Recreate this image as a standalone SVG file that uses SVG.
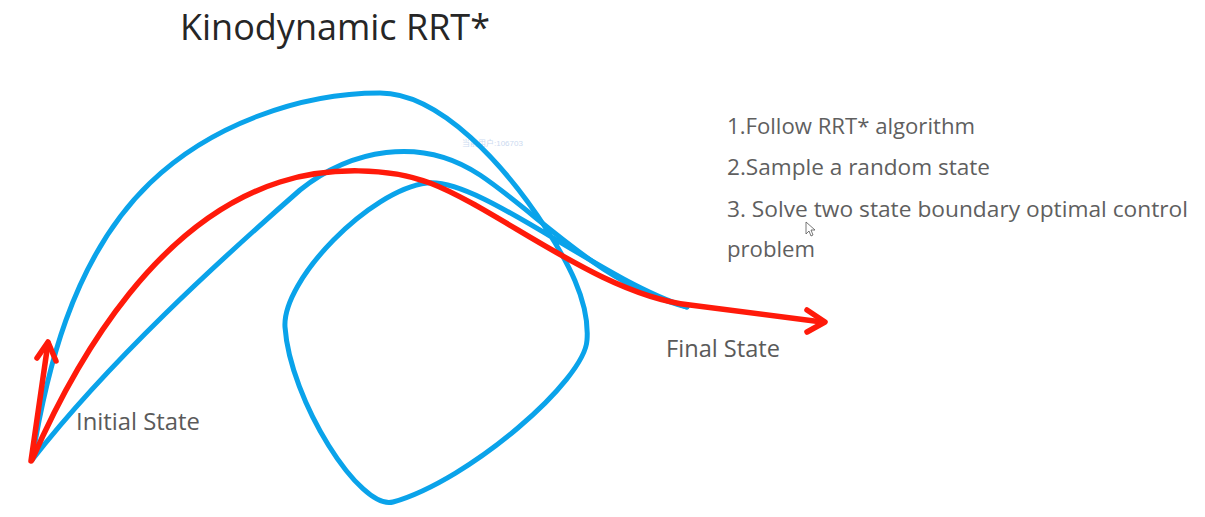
<svg xmlns="http://www.w3.org/2000/svg" width="1205" height="517" viewBox="0 0 1205 517">
<style>
.blue{fill:none;stroke:#0AA3EA;stroke-width:5;stroke-linecap:round;stroke-linejoin:round}
.red{fill:none;stroke:#FF1A0A;stroke-width:5.5;stroke-linecap:round;stroke-linejoin:round}
.title{font-family:"Open Sans","Noto Sans",sans-serif;font-size:36px;fill:#262626}
.item{font-family:"Open Sans","Noto Sans",sans-serif;font-size:22.5px;fill:#5f5f5f}
.label{font-family:"Open Sans","Noto Sans",sans-serif;font-size:24px;fill:#5a5a5a}
.wm{font-family:"Liberation Sans","Noto Sans CJK SC",sans-serif;font-size:8px;fill:#cbdaf0}
</style>
<rect width="1205" height="517" fill="#ffffff"/>
<g id="title"><text class="title" x="180" y="40" textLength="310" lengthAdjust="spacingAndGlyphs">Kinodynamic RRT*</text></g>
<g id="watermark"><text class="wm" x="462" y="146">当前用户:106703</text></g>
<g id="connectors">
<path id="blue-outer" class="blue" d="M32 460 C45 380 70 260 150 183 C210 125 300 93 380 93 C440 93 505 165 547 230 C565 258 590 300 587 340 C585 380 470 480 393 502 C360 511 290 400 285 327 C282 280 370 190 427 183 C480 177 600 280 687 307"/>
<path id="blue-middle" class="blue" d="M32 460 C110 360 220 260 300 190 C350 150 420 135 480 175 C540 215 600 285 687 307"/>
<path id="red-path" class="red" d="M32 460 C80 350 160 220 280 182 C330 166 390 168 430 183 C500 210 600 295 690 305 L822 322"/>
<polyline class="red" points="807,310 825,322 807,332"/>
<path id="red-initial" class="red" d="M31 461 L48 343"/>
<polyline class="red" points="37,358 48,342 56,361"/>
</g>
<g id="initial-state"><text class="label" x="76" y="430" textLength="124" lengthAdjust="spacingAndGlyphs">Initial State</text></g>
<g id="final-state"><text class="label" x="666" y="357" textLength="114" lengthAdjust="spacingAndGlyphs">Final State</text></g>
<g id="steps">
<text class="item" x="727" y="134" textLength="248" lengthAdjust="spacingAndGlyphs">1.Follow RRT* algorithm</text>
<text class="item" x="727" y="175" textLength="263" lengthAdjust="spacingAndGlyphs">2.Sample a random state</text>
<text class="item" x="727" y="217" textLength="461" lengthAdjust="spacingAndGlyphs">3. Solve two state boundary optimal control</text>
<text class="item" x="727" y="257" textLength="88" lengthAdjust="spacingAndGlyphs">problem</text>
</g>
<g id="cursor"><path d="M806 222 L806 234 L809 231 L811 236 L813 235 L811 230 L815 230 Z" fill="#ffffff" stroke="#555" stroke-width="0.8"/></g>
</svg>
